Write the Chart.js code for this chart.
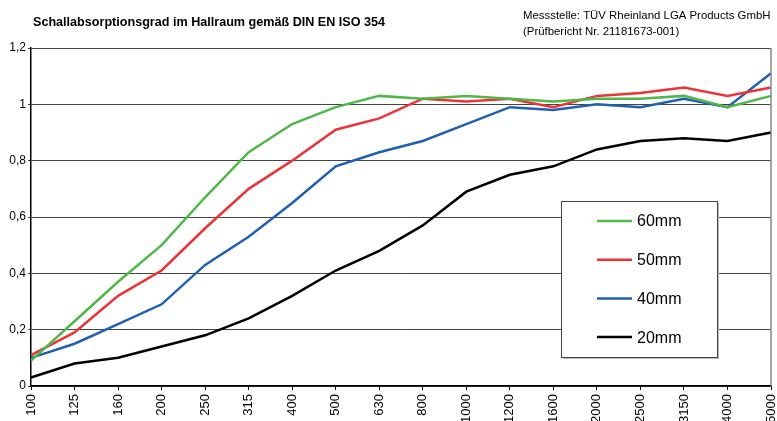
<!DOCTYPE html>
<html>
<head>
<meta charset="utf-8">
<script src="https://cdn.jsdelivr.net/npm/chart.js@4/dist/chart.umd.min.js"></script>
<style>
    html, body { margin: 0; padding: 0; background: #fff; }
    #wrap { width: 777px; height: 421px; position: relative; }
</style>
</head>
<body>
<div id="wrap"><canvas id="chart"></canvas></div>
<script>
const categories = ['100', '125', '160', '200', '250', '315', '400', '500', '630', '800',
    '1000', '1200', '1600', '2000', '2500', '3150', '4000', '5000'];

const values60 = [0.09, 0.23, 0.37, 0.50, 0.67, 0.83, 0.93, 0.99, 1.03, 1.02, 1.03, 1.02, 1.01, 1.02, 1.02, 1.03, 0.99, 1.03];
const values50 = [0.11, 0.19, 0.32, 0.41, 0.56, 0.70, 0.80, 0.91, 0.95, 1.02, 1.01, 1.02, 0.99, 1.03, 1.04, 1.06, 1.03, 1.06];
const values40 = [0.10, 0.15, 0.22, 0.29, 0.43, 0.53, 0.65, 0.78, 0.83, 0.87, 0.93, 0.99, 0.98, 1.00, 0.99, 1.02, 0.99, 1.11];
const values20 = [0.03, 0.08, 0.10, 0.14, 0.18, 0.24, 0.32, 0.41, 0.48, 0.57, 0.69, 0.75, 0.78, 0.84, 0.87, 0.88, 0.87, 0.90];

const seriesLabels = ['60mm', '50mm', '40mm', '20mm'];
const seriesColors = ['#4fb848', '#ee3338', '#2060b0', '#000000'];

const titleText = 'Schallabsorptionsgrad im Hallraum gemäß DIN EN ISO 354';
const sourceLines = ['Messstelle: TÜV Rheinland LGA Products GmbH', '(Prüfbericht Nr. 21181673-001)'];

const FONT = '"Liberation Sans", Arial, sans-serif';

// titles, right border and the boxed legend inside the plot
const decorPlugin = {
    id: 'decor',
    afterDraw(chart) {
        const ctx = chart.ctx;
        const area = chart.chartArea;
        ctx.save();

        ctx.fillStyle = '#000';
        ctx.textBaseline = 'alphabetic';
        ctx.textAlign = 'left';
        ctx.font = 'bold 12.6px ' + FONT;
        ctx.fillText(titleText, 33, 26);

        ctx.font = '11.4px ' + FONT;
        ctx.fillText(sourceLines[0], 523, 19);
        ctx.fillText(sourceLines[1], 523, 35);

        ctx.strokeStyle = '#888';
        ctx.lineWidth = 1.5;
        ctx.beginPath();
        ctx.moveTo(area.right, area.top);
        ctx.lineTo(area.right, area.bottom);
        ctx.stroke();

        // legend box
        const box = { x: 561, y: 201, w: 156, h: 156 };
        ctx.fillStyle = '#bbb';
        ctx.fillRect(box.x + 2, box.y + 2, box.w, box.h);
        ctx.fillStyle = '#fff';
        ctx.fillRect(box.x, box.y, box.w, box.h);
        ctx.strokeStyle = '#444';
        ctx.lineWidth = 1;
        ctx.strokeRect(box.x + 0.5, box.y + 0.5, box.w, box.h);

        ctx.font = '16px ' + FONT;
        ctx.textBaseline = 'middle';
        chart.data.datasets.forEach((ds, i) => {
            const cy = 221 + i * 38.7;
            ctx.strokeStyle = ds.borderColor;
            ctx.lineWidth = 2.5;
            ctx.beginPath();
            ctx.moveTo(597, cy);
            ctx.lineTo(632, cy);
            ctx.stroke();
            ctx.fillStyle = '#000';
            ctx.fillText(ds.label, 637, cy + 1);
        });

        ctx.restore();
    }
};

const allValues = [values60, values50, values40, values20];

new Chart(document.getElementById('chart'), {
    type: 'line',
    data: {
        labels: categories,
        datasets: allValues.map((vals, i) => ({
            label: seriesLabels[i],
            data: vals,
            borderColor: seriesColors[i],
            backgroundColor: seriesColors[i],
            borderWidth: 2.5,
            pointRadius: 0,
            tension: 0,
            fill: false,
        })),
    },
    options: {
        responsive: true,
        maintainAspectRatio: false,
        animation: false,
        layout: {
            padding: { top: 48, right: 6, bottom: 0, left: 0 },
        },
        plugins: {
            legend: { display: false },
            title: { display: false },
            tooltip: { enabled: false },
        },
        scales: {
            x: {
                offset: false,
                border: { color: '#000', width: 1.5 },
                grid: {
                    drawOnChartArea: false,
                    drawTicks: true,
                    tickLength: 4,
                    color: '#000',
                },
                ticks: {
                    autoSkip: false,
                    maxRotation: 90,
                    minRotation: 90,
                    padding: 4,
                    color: '#000',
                    font: { family: FONT, size: 13 },
                },
                afterFit(scale) {
                    scale.height = 35;
                    scale.paddingLeft = 0;
                    scale.paddingRight = 0;
                },
            },
            y: {
                min: 0,
                max: 1.2,
                border: { color: '#000', width: 1.5 },
                grid: {
                    color: '#444',
                    lineWidth: 1,
                    tickLength: 3,
                },
                ticks: {
                    stepSize: 0.2,
                    padding: 2,
                    color: '#000',
                    font: { family: FONT, size: 12 },
                    callback: v => v === 0 ? '0' : String(Math.round(v * 10) / 10).replace('.', ','),
                },
                afterFit(scale) {
                    scale.width = 31;
                },
            },
        },
    },
    plugins: [decorPlugin],
});
</script>
</body>
</html>
